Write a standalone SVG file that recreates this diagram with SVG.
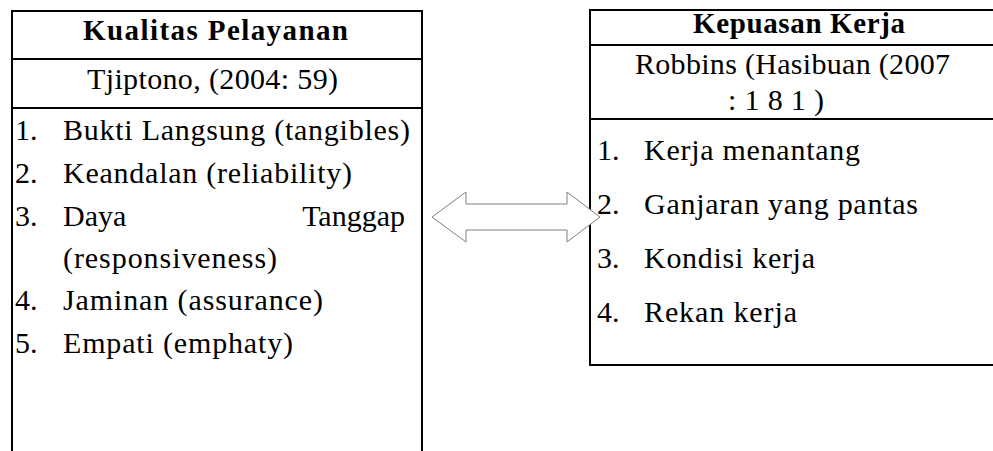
<svg xmlns="http://www.w3.org/2000/svg" width="993" height="451" viewBox="0 0 993 451">
  <style>
    .sep { stroke: #000000; stroke-width: 2; fill: none; }
    .arrow { fill: #ffffff; stroke: #808080; stroke-width: 1; }
  </style>
  <rect width="993" height="451" fill="#ffffff"/>

  <g id="kualitas-pelayanan">
    <path class="sep" d="M12,455 L12,11 L422,11 L422,455"/>
    <line class="sep" x1="12" y1="59" x2="422" y2="59"/>
    <line class="sep" x1="12" y1="108" x2="422" y2="108"/>
    <text x="83" y="40" textLength="265" lengthAdjust="spacing" font-family="Liberation Serif" style="font-family: 'Liberation Serif', serif; font-size: 29px; font-weight: bold;">Kualitas Pelayanan</text>
    <text x="87" y="89" textLength="251" lengthAdjust="spacing" font-family="Liberation Serif" style="font-family: 'Liberation Serif', serif; font-size: 30px;">Tjiptono, (2004: 59)</text>
    <text x="15" y="140" font-family="Liberation Serif" style="font-family: 'Liberation Serif', serif; font-size: 30px;">1.</text>
    <text x="63" y="140" textLength="347" lengthAdjust="spacing" font-family="Liberation Serif" style="font-family: 'Liberation Serif', serif; font-size: 30px;">Bukti Langsung (tangibles)</text>
    <text x="15" y="183" font-family="Liberation Serif" style="font-family: 'Liberation Serif', serif; font-size: 30px;">2.</text>
    <text x="63" y="183" textLength="289" lengthAdjust="spacing" font-family="Liberation Serif" style="font-family: 'Liberation Serif', serif; font-size: 30px;">Keandalan (reliability)</text>
    <text x="15" y="226" font-family="Liberation Serif" style="font-family: 'Liberation Serif', serif; font-size: 30px;">3.</text>
    <text x="63" y="226" font-family="Liberation Serif" style="font-family: 'Liberation Serif', serif; font-size: 30px;">Daya</text>
    <text x="405" y="226" text-anchor="end" font-family="Liberation Serif" style="font-family: 'Liberation Serif', serif; font-size: 30px;">Tanggap</text>
    <text x="63" y="268" textLength="214" lengthAdjust="spacing" font-family="Liberation Serif" style="font-family: 'Liberation Serif', serif; font-size: 30px;">(responsiveness)</text>
    <text x="15" y="310" font-family="Liberation Serif" style="font-family: 'Liberation Serif', serif; font-size: 30px;">4.</text>
    <text x="63" y="310" textLength="260" lengthAdjust="spacing" font-family="Liberation Serif" style="font-family: 'Liberation Serif', serif; font-size: 30px;">Jaminan (assurance)</text>
    <text x="15" y="353" font-family="Liberation Serif" style="font-family: 'Liberation Serif', serif; font-size: 30px;">5.</text>
    <text x="63" y="353" textLength="230" lengthAdjust="spacing" font-family="Liberation Serif" style="font-family: 'Liberation Serif', serif; font-size: 30px;">Empati (emphaty)</text>
  </g>

  <g id="kepuasan-kerja">
    <path class="sep" d="M1000,10 L590,10 L590,365 L1000,365"/>
    <line class="sep" x1="590" y1="45" x2="1000" y2="45"/>
    <line class="sep" x1="590" y1="119" x2="1000" y2="119"/>
    <text x="693" y="33" textLength="212" lengthAdjust="spacing" font-family="Liberation Serif" style="font-family: 'Liberation Serif', serif; font-size: 29px; font-weight: bold;">Kepuasan Kerja</text>
    <text x="635" y="74" textLength="315" lengthAdjust="spacing" font-family="Liberation Serif" style="font-family: 'Liberation Serif', serif; font-size: 30px;">Robbins (Hasibuan (2007</text>
    <text x="728" y="110" textLength="96" lengthAdjust="spacing" font-family="Liberation Serif" style="font-family: 'Liberation Serif', serif; font-size: 30px;">:181)</text>
    <text x="597" y="160" font-family="Liberation Serif" style="font-family: 'Liberation Serif', serif; font-size: 30px;">1.</text>
    <text x="644" y="160" textLength="216" lengthAdjust="spacing" font-family="Liberation Serif" style="font-family: 'Liberation Serif', serif; font-size: 30px;">Kerja menantang</text>
    <text x="597" y="214" font-family="Liberation Serif" style="font-family: 'Liberation Serif', serif; font-size: 30px;">2.</text>
    <text x="644" y="214" textLength="274" lengthAdjust="spacing" font-family="Liberation Serif" style="font-family: 'Liberation Serif', serif; font-size: 30px;">Ganjaran yang pantas</text>
    <text x="597" y="268" font-family="Liberation Serif" style="font-family: 'Liberation Serif', serif; font-size: 30px;">3.</text>
    <text x="644" y="268" textLength="171" lengthAdjust="spacing" font-family="Liberation Serif" style="font-family: 'Liberation Serif', serif; font-size: 30px;">Kondisi kerja</text>
    <text x="597" y="322" font-family="Liberation Serif" style="font-family: 'Liberation Serif', serif; font-size: 30px;">4.</text>
    <text x="644" y="322" textLength="153" lengthAdjust="spacing" font-family="Liberation Serif" style="font-family: 'Liberation Serif', serif; font-size: 30px;">Rekan kerja</text>
  </g>

  <g id="connectors">
    <polygon class="arrow" points="432,217 466,192 466,204 567,204 567,192 600,217 567,242 567,230 466,230 466,242"/>
  </g>
</svg>
